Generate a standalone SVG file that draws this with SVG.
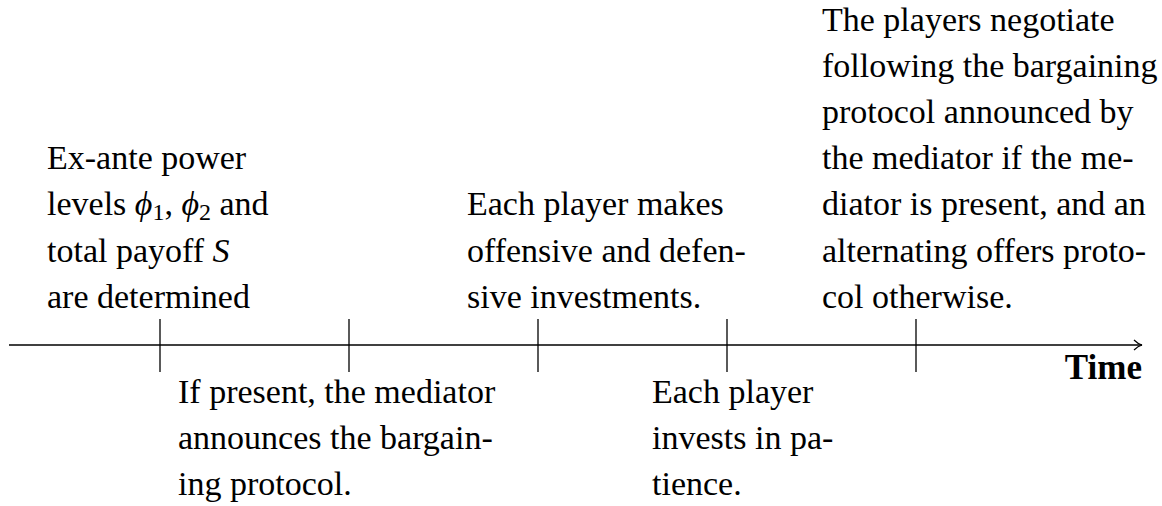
<svg xmlns="http://www.w3.org/2000/svg" width="1162" height="506" viewBox="0 0 1162 506">
<style>
text{font-family:"Liberation Serif","Times New Roman",serif;font-size:34px;fill:#000}
.m{font-style:italic}
.sub{font-size:24px}
.b{font-weight:bold;font-size:35px}
.ln{stroke:#000;stroke-width:1.3;fill:none}
</style>
<defs>
<marker id="arr" markerWidth="12" markerHeight="12" refX="10" refY="6" orient="auto" markerUnits="userSpaceOnUse">
<path d="M2,1 Q6,5 10,6 Q6,7 2,11" fill="none" stroke="#000" stroke-width="1.2"/>
</marker>
</defs>
<rect width="1162" height="506" fill="#fff"/>
<g id="connectors">
<line class="ln" x1="9" y1="345" x2="1142" y2="345" marker-end="url(#arr)"/>
<line class="ln" x1="160" y1="319" x2="160" y2="372"/>
<line class="ln" x1="349" y1="319" x2="349" y2="372"/>
<line class="ln" x1="538" y1="319" x2="538" y2="372"/>
<line class="ln" x1="727" y1="319" x2="727" y2="372"/>
<line class="ln" x1="916" y1="319" x2="916" y2="372"/>
</g>
<g id="node-time">
<text class="b" x="1142" y="379" text-anchor="end">Time</text>
</g>
<g id="node-1">
<text x="47" y="169">Ex-ante power</text>
<text x="47" y="215">levels <tspan class="m">ϕ</tspan><tspan class="sub" dy="5">1</tspan><tspan dy="-5">, </tspan><tspan class="m">ϕ</tspan><tspan class="sub" dy="5">2</tspan><tspan dy="-5"> and</tspan></text>
<text x="47" y="262">total payoff <tspan class="m">S</tspan></text>
<text x="47" y="308">are determined</text>
</g>
<g id="node-2">
<text x="178" y="403">If present, the mediator</text>
<text x="178" y="449">announces the bargain-</text>
<text x="178" y="495">ing protocol.</text>
</g>
<g id="node-3">
<text x="467" y="215">Each player makes</text>
<text x="467" y="262">offensive and defen-</text>
<text x="467" y="308">sive investments.</text>
</g>
<g id="node-4">
<text x="652" y="403">Each player</text>
<text x="652" y="449">invests in pa-</text>
<text x="652" y="495">tience.</text>
</g>
<g id="node-5">
<text x="822" y="31">The players negotiate</text>
<text x="822" y="77">following the bargaining</text>
<text x="822" y="123">protocol announced by</text>
<text x="822" y="169">the mediator if the me-</text>
<text x="822" y="215">diator is present, and an</text>
<text x="822" y="262">alternating offers proto-</text>
<text x="822" y="308">col otherwise.</text>
</g>
</svg>
